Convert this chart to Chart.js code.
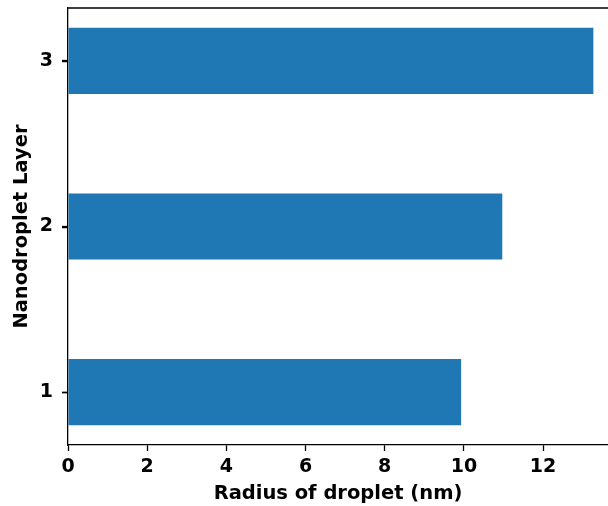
<!DOCTYPE html>
<html>
<head>
<meta charset="utf-8">
<script src="https://cdn.jsdelivr.net/npm/chart.js@4.4.1/dist/chart.umd.min.js"></script>
<style>
  body { margin: 0; background: #fff; }
  #wrap { width: 608px; height: 506px; }
</style>
</head>
<body>
<div id="wrap"><canvas id="chart" width="608" height="506"></canvas></div>
<script>
// droplet radius per nanodroplet layer
const layers = [1, 2, 3];
const radii = [9.93, 10.97, 13.27];
const xTicks = [0, 2, 4, 6, 8, 10, 12];
const yTicks = [1, 2, 3];

const FONT = "'DejaVu Sans', sans-serif";

// top spine (matplotlib box, right side is cut off in the picture)
// plus the little outward tick marks on the y axis
const spines = {
    id: 'spines',
    afterDraw(chart) {
        const ctx = chart.ctx;
        const a = chart.chartArea;
        const y = chart.scales.y;
        ctx.save();
        ctx.strokeStyle = '#000';
        ctx.lineWidth = 1.3;
        ctx.beginPath();
        ctx.moveTo(a.left, a.top);
        ctx.lineTo(chart.width, a.top);
        yTicks.forEach(v => {
            const py = Math.round(y.getPixelForValue(v)) + 0.5;
            ctx.moveTo(a.left - 6, py);
            ctx.lineTo(a.left, py);
        });
        ctx.stroke();
        ctx.restore();
    }
};

new Chart(document.getElementById('chart'), {
    type: 'bar',
    data: {
        datasets: [{
            data: layers.map((l, i) => ({ x: radii[i], y: l })),
            backgroundColor: '#1f77b4',
            borderWidth: 0,
            barPercentage: 0.4,
            categoryPercentage: 1.0
        }]
    },
    options: {
        responsive: false,
        animation: false,
        indexAxis: 'y',
        layout: { padding: { top: 8, right: 0, left: 0, bottom: 0 } },
        plugins: { legend: { display: false }, tooltip: { enabled: false } },
        scales: {
            x: {
                type: 'linear',
                min: 0,
                max: 13.64,
                afterBuildTicks: s => { s.ticks = xTicks.map(v => ({ value: v })); },
                afterFit: s => { s.height = 61; s.paddingLeft = 0; s.paddingRight = 0; },
                grid: { drawOnChartArea: false, drawTicks: true, tickLength: 6, color: '#000', tickWidth: 1.3 },
                border: { display: true, color: '#000', width: 1.3 },
                ticks: { color: '#000', padding: 5, font: { family: FONT, size: 19, weight: 'bold' }, maxRotation: 0 },
                title: { display: true, text: 'Radius of droplet (nm)', color: '#000', padding: { top: 0, bottom: 0 },
                         font: { family: FONT, size: 19.5, weight: 'bold' } }
            },
            y: {
                type: 'linear',
                offset: false,
                min: 0.68,
                max: 3.32,
                afterBuildTicks: s => { s.ticks = yTicks.map(v => ({ value: v })); },
                afterFit: s => { s.width = 68; s.paddingTop = 0; s.paddingBottom = 0; },
                grid: { offset: false, drawOnChartArea: false, drawTicks: true, tickLength: 6, color: '#000', tickWidth: 1.3 },
                border: { display: true, color: '#000', width: 1.3 },
                ticks: { color: '#000', padding: 9, font: { family: FONT, size: 19, weight: 'bold' } },
                title: { display: true, text: 'Nanodroplet Layer', color: '#000', padding: { top: 10, bottom: 0 },
                         font: { family: FONT, size: 19.5, weight: 'bold' } }
            }
        }
    },
    plugins: [spines]
});
</script>
</body>
</html>
